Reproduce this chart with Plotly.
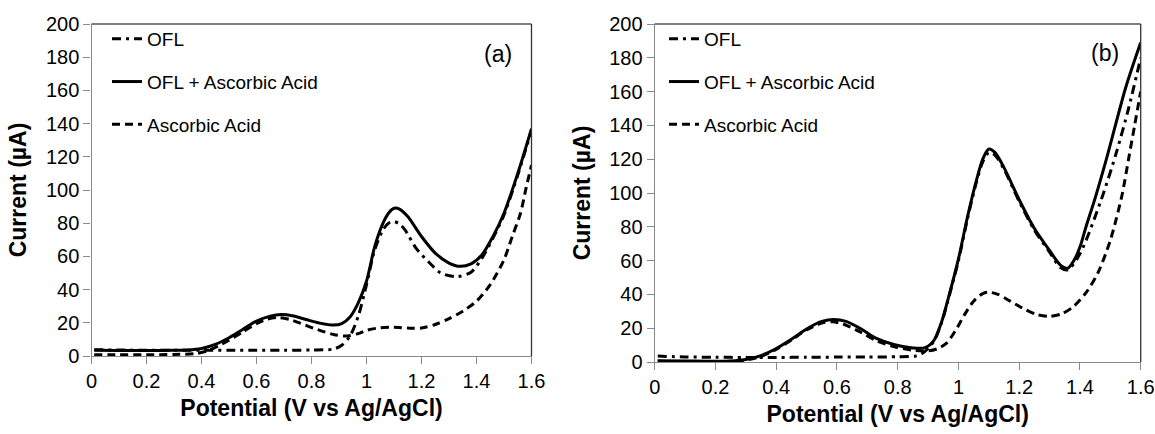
import plotly.graph_objects as go

# ---------------- data: panel (a) ----------------
a_ofl_v = [0.01, 0.1, 0.2, 0.3, 0.4, 0.5, 0.6, 0.7, 0.8, 0.88, 0.91, 0.94, 0.97, 1.0, 1.03,
           1.06, 1.08, 1.1, 1.12, 1.14, 1.18, 1.23, 1.27, 1.33, 1.38, 1.42, 1.46, 1.5, 1.55, 1.6]
a_ofl_i = [3.8, 3.6, 3.5, 3.5, 3.5, 3.5, 3.5, 3.5, 3.6, 4.2, 6.5, 12, 24, 43, 64,
           76, 80, 81, 79.5, 76, 65, 56, 50, 47.8, 50.5, 59, 71, 85, 109, 136]

a_mix_v = [0.01, 0.1, 0.2, 0.3, 0.35, 0.4, 0.45, 0.5, 0.55, 0.6, 0.65, 0.69, 0.73, 0.78,
           0.83, 0.88, 0.91, 0.94, 0.97, 1.0, 1.03, 1.06, 1.08, 1.1, 1.12, 1.15, 1.2, 1.25,
           1.3, 1.34, 1.38, 1.42, 1.46, 1.5, 1.55, 1.6]
a_mix_i = [3.5, 3.3, 3.3, 3.5, 3.6, 4.5, 7, 11, 16, 21, 24, 25, 24.3, 22,
           19.8, 18.6, 19.5, 23.5, 32, 45, 66, 80, 86, 89, 88.5, 84, 72, 62,
           56, 54, 55.5, 61, 72, 86, 110, 137]

a_aa_v = [0.01, 0.1, 0.2, 0.3, 0.38, 0.42, 0.46, 0.5, 0.55, 0.6, 0.64, 0.68, 0.72, 0.76,
          0.82, 0.88, 0.93, 0.97, 1.0, 1.05, 1.1, 1.15, 1.2, 1.25, 1.3, 1.35, 1.4, 1.45,
          1.5, 1.53, 1.56, 1.58, 1.6]
a_aa_i = [0.8, 0.8, 0.8, 0.9, 1.5, 3, 6, 9.5, 14.5, 19.5, 22.2, 23.2, 22, 19.7,
          16, 13, 12, 13.5, 15.5, 17, 17.3, 16.8, 16.8, 19, 22.5, 27, 33, 43,
          58, 72, 86, 101, 115]

# ---------------- data: panel (b) ----------------
b_ofl_v = [0.01, 0.1, 0.2, 0.3, 0.4, 0.5, 0.6, 0.7, 0.8, 0.86, 0.88, 0.9, 0.92, 0.945, 0.97,
           1.0, 1.03, 1.06, 1.08, 1.1, 1.12, 1.15, 1.2, 1.25, 1.3, 1.335, 1.36, 1.4, 1.47,
           1.52, 1.56, 1.6]
b_ofl_i = [3.5, 3, 2.8, 2.7, 2.7, 2.8, 2.9, 3, 3.1, 3.6, 5, 8, 12.5, 23.5, 39.5,
           60, 85, 107, 118.5, 124, 122.5, 114, 95, 78, 65, 56, 54.5, 64, 96,
           124, 150, 180]

b_mix_v = [0.01, 0.1, 0.2, 0.25, 0.3, 0.35, 0.4, 0.45, 0.5, 0.55, 0.59, 0.63, 0.68, 0.73,
           0.79, 0.85, 0.89, 0.92, 0.945, 0.97, 1.0, 1.03, 1.06, 1.08, 1.1, 1.12, 1.15,
           1.2, 1.25, 1.3, 1.335, 1.36, 1.38, 1.4, 1.42, 1.45, 1.49, 1.55, 1.6]
b_mix_i = [0.8, 0.6, 0.4, 0.6, 1.5, 3.8, 8, 13.5, 19.5, 24, 25.2, 24, 19.5, 14,
           10.2, 8.3, 8.5, 13, 24, 40, 61, 86, 108, 120, 126, 124, 115,
           96, 79, 66, 57.5, 55.5, 60, 68, 80, 97, 122, 162, 189]

b_aa_v = [0.01, 0.1, 0.2, 0.25, 0.3, 0.35, 0.4, 0.45, 0.5, 0.55, 0.585, 0.62, 0.68, 0.73,
          0.79, 0.85, 0.9, 0.93, 0.96, 0.99, 1.02, 1.05, 1.08, 1.1, 1.13, 1.17, 1.22,
          1.26, 1.3, 1.34, 1.38, 1.42, 1.46, 1.5, 1.52, 1.54, 1.56, 1.58, 1.6]
b_aa_i = [0.4, 0.3, 0.3, 0.5, 1.2, 3.3, 7.5, 13, 19, 23, 23.8, 22.5, 17.5, 12.5,
          9, 7, 6.6, 7.8, 11, 18.5, 28, 36, 40.5, 41.3, 40, 36, 31,
          28, 27, 28.5, 33, 41, 53, 72, 85, 100, 120, 140, 160]

series_names = ["OFL", "OFL + Ascorbic Acid", "Ascorbic Acid"]
x_ticks = [0, 0.2, 0.4, 0.6, 0.8, 1.0, 1.2, 1.4, 1.6]
x_tick_text = ["0", "0.2", "0.4", "0.6", "0.8", "1", "1.2", "1.4", "1.6"]
y_ticks = [0, 20, 40, 60, 80, 100, 120, 140, 160, 180, 200]
panel_labels = ["(a)", "(b)"]

FONT = "Liberation Sans, Arial, sans-serif"
W, H = 1155, 434

dash_styles = ["9px,5px,3px,5px", "solid", "8px,5px"]

fig = go.Figure()

panels = [
    ("x", "y", "legend", [(a_ofl_v, a_ofl_i), (a_mix_v, a_mix_i), (a_aa_v, a_aa_i)]),
    ("x2", "y2", "legend2", [(b_ofl_v, b_ofl_i), (b_mix_v, b_mix_i), (b_aa_v, b_aa_i)]),
]
for xa, ya, leg, curves in panels:
    for k, (vv, ii) in enumerate(curves):
        fig.add_trace(go.Scatter(
            x=vv, y=ii, mode="lines", name=series_names[k],
            xaxis=xa, yaxis=ya, legend=leg, legendgroup=f"{leg}_{k}",
            line=dict(color="black", width=3, dash=dash_styles[k],
                      shape="spline", smoothing=0.8),
        ))

# plot-area boxes in pixels
box_a = dict(x0=91.5, x1=531.5, y0=356, y1=24)
box_b = dict(x0=654.7, x1=1140.7, y0=362, y1=24)


def xdom(b):
    return [b["x0"] / W, b["x1"] / W]


def ydom(b):
    return [(H - b["y0"]) / H, (H - b["y1"]) / H]


axis_common = dict(
    showgrid=False, zeroline=False, showline=True, linecolor="#8a8a8a", linewidth=1.3,
    ticks="outside", ticklen=7, tickcolor="#8a8a8a", tickwidth=1.3,
    tickfont=dict(family=FONT, size=20, color="black"),
)
title_font = dict(family=FONT, size=23, color="black")

layout_axes = {}
for idx, b in ((1, box_a), (2, box_b)):
    sfx = "" if idx == 1 else str(idx)
    layout_axes["xaxis" + sfx] = dict(
        axis_common, domain=xdom(b), range=[0, 1.6], tickvals=x_ticks, ticktext=x_tick_text,
        anchor="y" + sfx,
        title=dict(text="<b>Potential (V vs Ag/AgCl)</b>", font=title_font, standoff=8),
    )
    layout_axes["yaxis" + sfx] = dict(
        axis_common, domain=ydom(b), range=[0, 200], tickvals=y_ticks,
        anchor="x" + sfx,
        title=dict(text="<b>Current (µA)</b>", font=title_font, standoff=12),
    )

# top and right frame edges of each plot area
shapes = []
for sfx in ("", "2"):
    xr, yr = "x" + sfx + " domain", "y" + sfx + " domain"
    shapes.append(dict(type="line", xref=xr, yref=yr, x0=0, x1=1, y0=1, y1=1,
                       line=dict(color="#555555", width=1.3)))
    shapes.append(dict(type="line", xref=xr, yref=yr, x0=1, x1=1, y0=0, y1=1,
                       line=dict(color="#333333", width=1.3)))

annotations = []
for lbl, sfx, (ax, ay) in ((panel_labels[0], "", (0.924, 0.91)), (panel_labels[1], "2", (0.9265, 0.914))):
    annotations.append(dict(text=lbl, xref="x" + sfx + " domain", yref="y" + sfx + " domain",
                            x=ax, y=ay, showarrow=False, xanchor="center", yanchor="middle",
                            font=dict(family=FONT, size=23, color="black")))

legend_common = dict(
    font=dict(family=FONT, size=19, color="black"), bgcolor="rgba(0,0,0,0)",
    traceorder="grouped", tracegroupgap=15, xanchor="left", yanchor="top",
    itemwidth=30,
)

fig.update_layout(
    width=W, height=H, margin=dict(l=0, r=0, t=0, b=0, autoexpand=False),
    paper_bgcolor="white", plot_bgcolor="white",
    showlegend=True,
    legend=dict(legend_common, x=107 / W, y=1 - 20 / H),
    legend2=dict(legend_common, x=664 / W, y=1 - 20 / H),
    shapes=shapes, annotations=annotations,
    **layout_axes,
)

fig.write_html("out.html", include_plotlyjs=True, config={"displayModeBar": False})
